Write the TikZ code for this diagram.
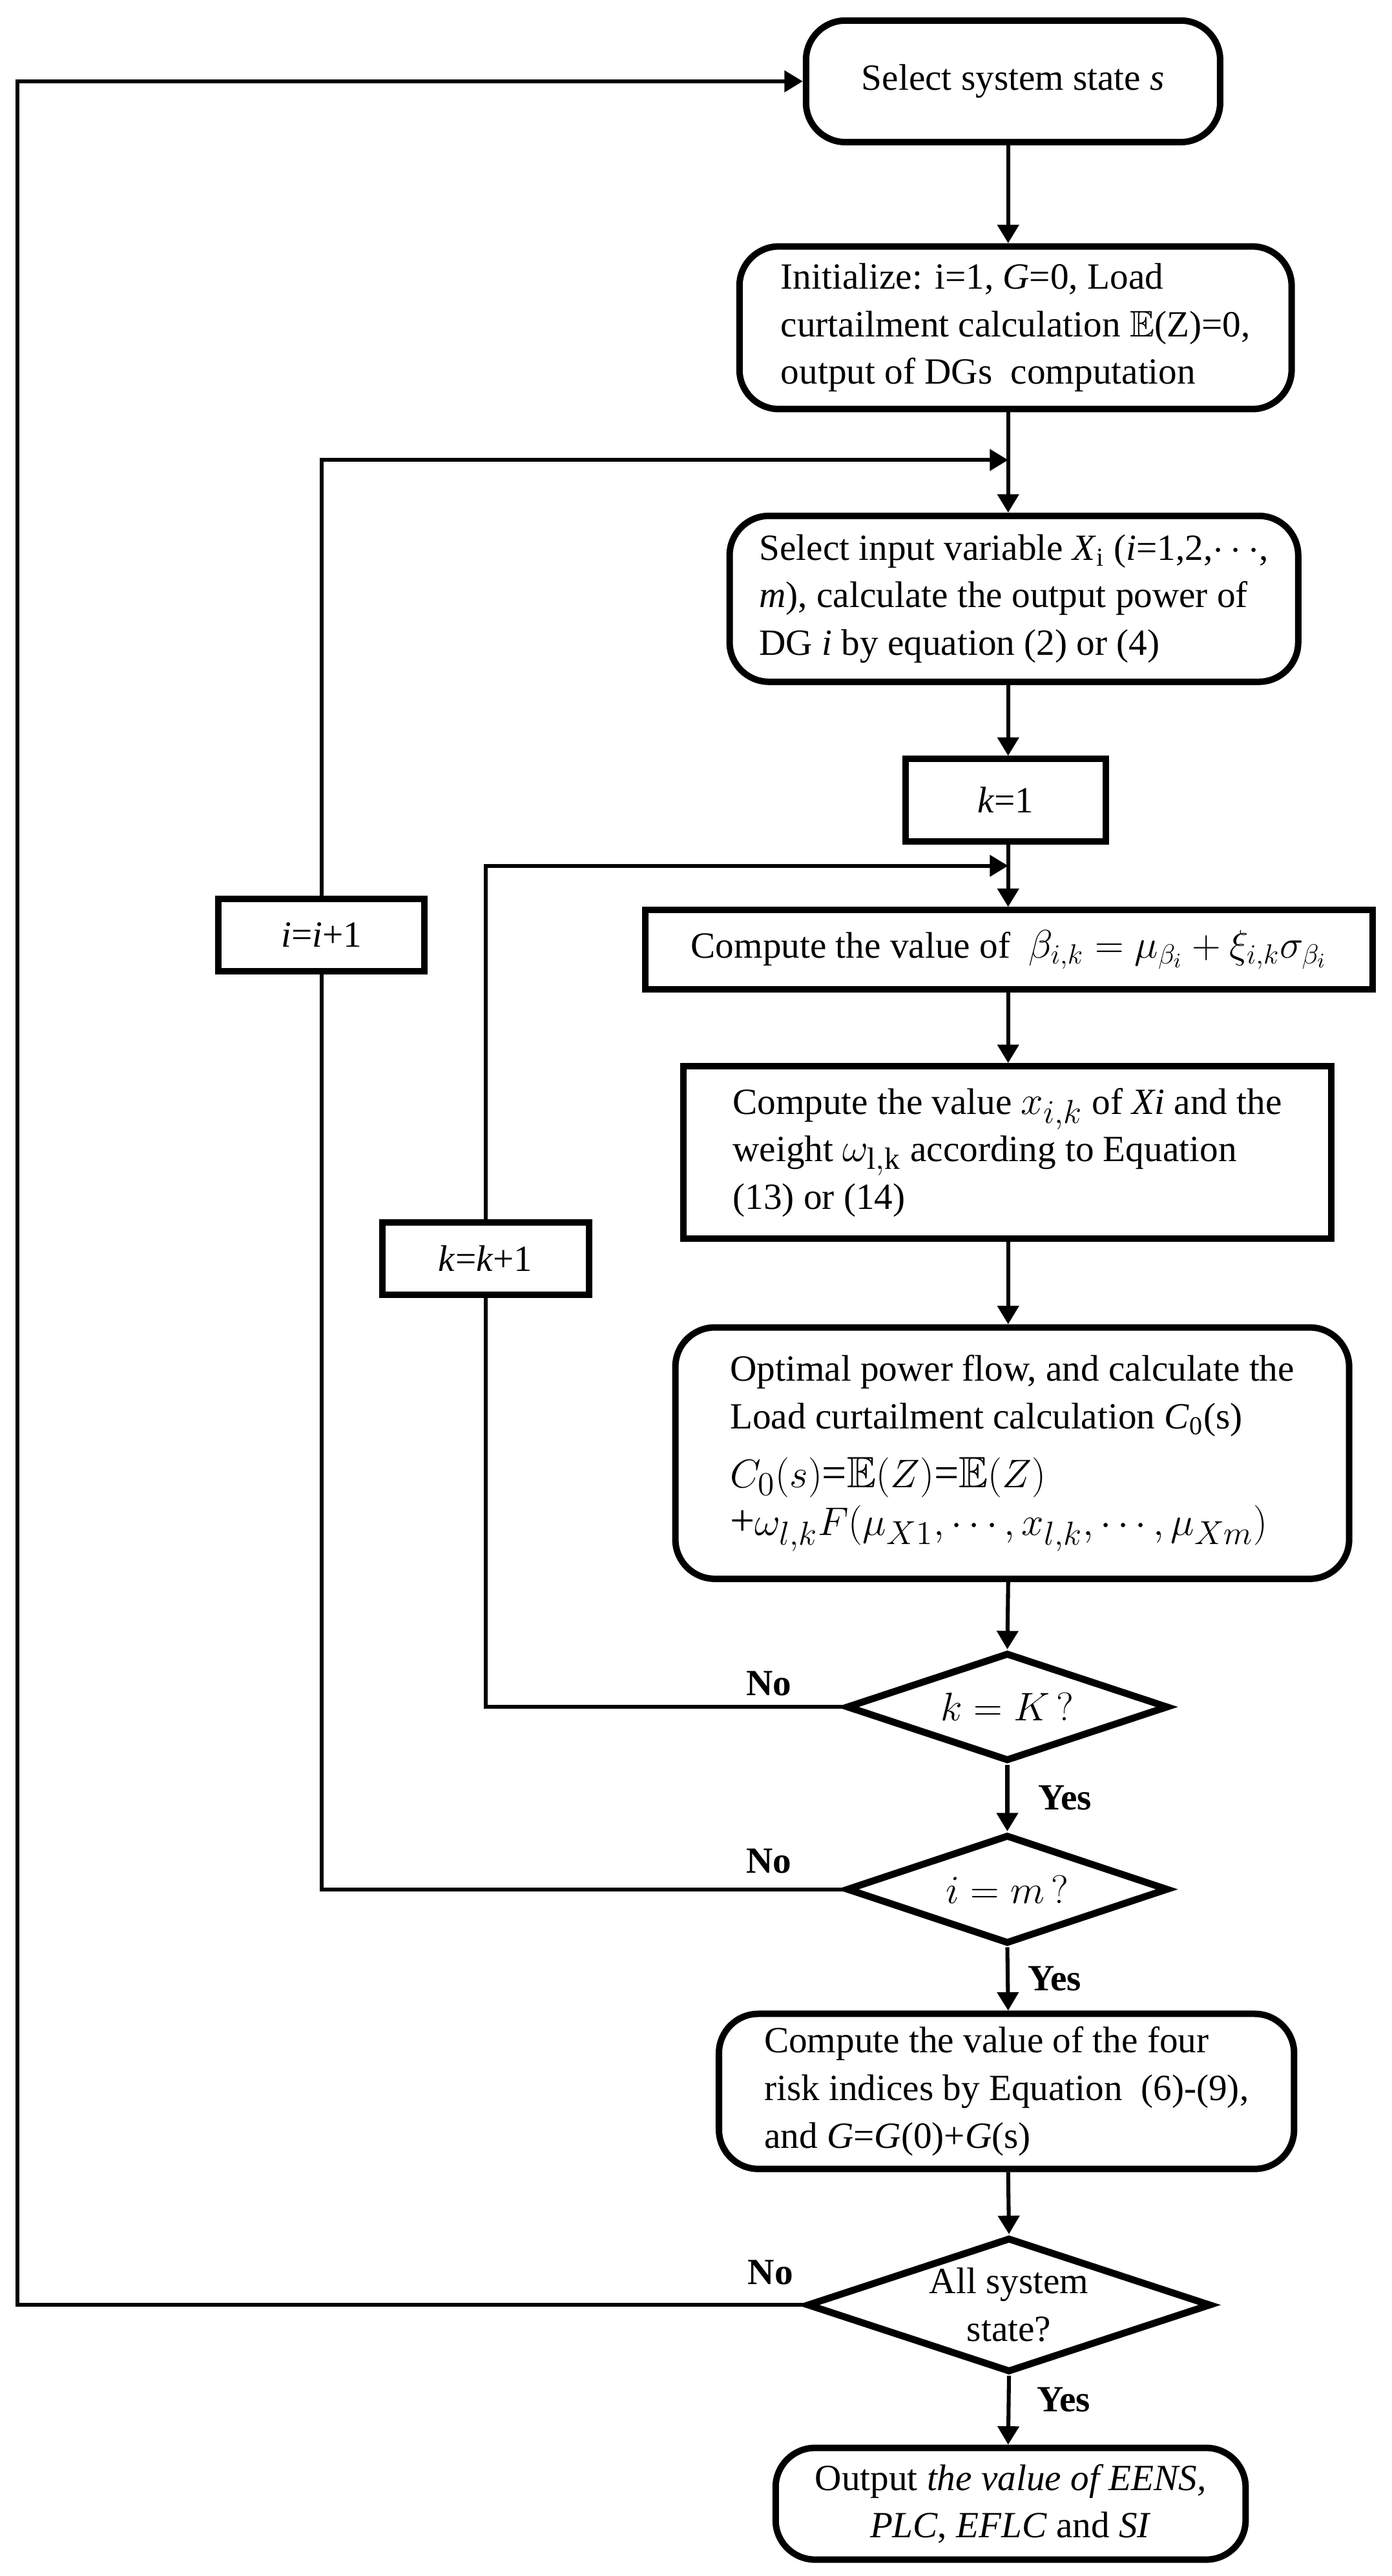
\documentclass[tikz,border=0pt]{standalone}
\usepackage{amssymb}
\usepackage{fontspec}
\setmainfont{Liberation Serif}
\usetikzlibrary{positioning,arrows.meta,shapes.geometric,calc}

\begin{document}
\begin{tikzpicture}[
  x=0.25mm, y=-0.25mm,
  font=\fontsize{16}{20.6}\selectfont,
  >={Triangle[length=2.8mm, width=3.2mm]},
  box/.style={draw, line width=2.8pt, align=left, inner sep=0pt},
  term/.style={box, rounded corners=6mm},
  test/.style={draw, diamond, line width=3pt, inner sep=0pt, align=center},
  flow/.style={->, line width=1.7pt},
  wire/.style={line width=1.7pt},
  lab/.style={font=\fontsize{16}{20}\selectfont\bfseries, inner sep=0pt},
  big/.style={font=\fontsize{19}{23}\selectfont}
]
\useasboundingbox (0,0) rectangle (847,1568);

\node[term, minimum width=63mm, minimum height=18.5mm, align=center] (state) at (616.5,49.5) {Select system state \textit{s}};
\node[term, minimum width=84mm, minimum height=24.75mm] (init) at (618,199.5) {Initialize: i=1, \textit{G}=0, Load\\curtailment calculation $\mathbb{E}$(Z)=0,\\output of DGs\ \ computation};
\node[term, minimum width=86.5mm, minimum height=25.25mm] (input) at (617,364.5) {Select input variable \textit{X}\textsubscript{i} (\textit{i}=1,2,$\cdots$,\\\textit{m}), calculate the output power of\\DG \textit{i} by equation (2) or (4)};
\node[box, minimum width=30.5mm, minimum height=12.5mm, align=center] (kone) at (612,487) {\textit{k}=1};
\node[box, minimum width=110.7mm, minimum height=12mm] (beta) at (614,578) {Compute the value of\ \ {\fontsize{18}{22}\selectfont$\beta_{i,k}=\mu_{\beta_i}+\xi_{i,k}\sigma_{\beta_i}$}};
\node[box, minimum width=98.5mm, minimum height=26.25mm] (xval) at (613,701.5) {Compute the value {\fontsize{19}{22}\selectfont$x_{i,k}$} of \textit{Xi} and the\\weight {\fontsize{19}{22}\selectfont$\omega_{\mathrm{l,k}}$} according to Equation\\(13) or (14)};
\node[term, minimum width=102.5mm, minimum height=38.25mm] (opf) at (616,884.5) {Optimal power flow, and calculate the\\Load curtailment calculation \textit{C}\textsubscript{0}(s)\\[5pt]{\fontsize{19}{23}\selectfont$C_0(s)$=$\mathbb{E}(Z)$=$\mathbb{E}(Z)$}\\{\fontsize{19}{23}\selectfont+$\omega_{l,k}F(\mu_{X1},\cdots,x_{l,k},\cdots,\mu_{Xm})$}};
\node[test, big, aspect=2.9, minimum width=49mm, minimum height=16.5mm] (kk) at (613,1039) {$k=K\,?$};
\node[test, big, aspect=2.9, minimum width=49mm, minimum height=16.6mm] (im) at (613,1150) {$i=m\,?$};
\node[term, minimum width=87.5mm, minimum height=23.6mm] (risk) at (612.5,1273) {Compute the value of the four\\risk indices by Equation\ \ (6)-(9),\\and \textit{G}=\textit{G}(0)+\textit{G}(s)};
\node[test, aspect=2.95, minimum width=61.5mm, minimum height=20.5mm] (all) at (614,1403) {All system\\state?};
\node[term, minimum width=71.5mm, minimum height=17mm, align=center] (out) at (615,1524) {Output \textit{the value of EENS,}\\\textit{PLC}, \textit{EFLC} and \textit{SI}};

\node[box, minimum width=31.4mm, minimum height=11mm, align=center] (iinc) at (195.6,569) {\textit{i}=\textit{i}+1};
\node[box, minimum width=31.4mm, minimum height=11mm, align=center] (kinc) at (295.5,766) {\textit{k}=\textit{k}+1};

\coordinate (spine) at (613.5,0);
\coordinate (ijoin) at (613.5,280);
\coordinate (kjoin) at (613.5,527);
\coordinate (rim) at (10.5,0);

\draw[flow] (state.south -| spine) -- (init.north -| spine);
\draw[flow] (init.south -| spine) -- (input.north -| spine);
\draw[flow] (input.south -| spine) -- (kone.north -| spine);
\draw[flow] (kone.south -| spine) -- (beta.north -| spine);
\draw[flow] (beta.south -| spine) -- (xval.north -| spine);
\draw[flow] (xval.south -| spine) -- (opf.north -| spine);
\draw[flow] (opf.south -| spine) -- (kk.north);
\draw[flow] (kk.south) -- node[lab, right=4.4mm] {Yes} (im.north);
\draw[flow] (im.south) -- node[lab, right=2.75mm] {Yes} (risk.north -| spine);
\draw[flow] (risk.south -| spine) -- (all.north);
\draw[flow] (all.south) -- node[lab, right=4mm, pos=0.35] {Yes} (out.north -| spine);

\draw[wire] (kk.west) -| (kinc.south);
\draw[flow] (kinc.north) |- (kjoin);
\draw[wire] (im.west) -| (iinc.south);
\draw[flow] (iinc.north) |- (ijoin);
\draw[flow] (all.west) -- (all.west -| rim) |- (state.west);

\node[lab, above left=1.6mm and 7.75mm of kk.west] (knot) {No};
\node[lab, above left=2.3mm and 7.75mm of im.west] (inot) {No};
\node[lab, above left=3mm and 1.5mm of all.west] (anot) {No};
\end{tikzpicture}
\end{document}
